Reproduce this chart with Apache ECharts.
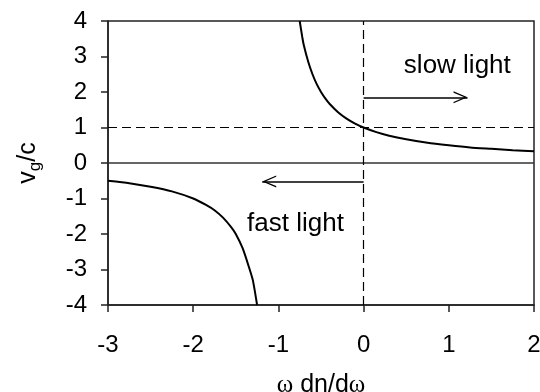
<!DOCTYPE html>
<html>
<head>
<meta charset="utf-8">
<script src="https://cdn.jsdelivr.net/npm/echarts@6/dist/echarts.min.js"></script>
<style>
  html, body { margin: 0; padding: 0; background: #fff; }
  #chart { width: 540px; height: 392px; }
</style>
</head>
<body>
<div id="chart"></div>
<script>
// points: [ω dn/dω, vg/c]
const slowBranch = [
  [-0.75, 4.0], [-0.72, 3.55], [-0.7, 3.3], [-0.65, 2.85], [-0.6, 2.5],
  [-0.55, 2.22], [-0.5, 2.0], [-0.45, 1.82], [-0.4, 1.67], [-0.3, 1.43],
  [-0.2, 1.25], [-0.1, 1.11], [0, 1.0], [0.15, 0.87], [0.3, 0.77],
  [0.5, 0.67], [0.75, 0.57], [1.0, 0.5], [1.25, 0.44], [1.5, 0.4],
  [1.75, 0.36], [2.0, 0.33]
];
const fastBranch = [
  [-3.0, -0.5], [-2.75, -0.57], [-2.5, -0.67], [-2.25, -0.8], [-2.0, -1.0],
  [-1.85, -1.18], [-1.75, -1.33], [-1.65, -1.54], [-1.55, -1.82], [-1.5, -2.0],
  [-1.42, -2.4], [-1.35, -2.9], [-1.3, -3.3], [-1.25, -4.0]
];
const xTicks = { min: -3, max: 2, step: 1 };
const yTicks = { min: -4, max: 4, step: 1 };
// reference lines and arrows
const unityLine = 1;
const zeroLine = 0;
const slowArrow = { y: 1.85, from: 0, to: 1.22 };
const fastArrow = { y: -0.52, from: 0, to: -1.19 };
const notes = [
  { name: 'slow light', coord: [1.1, 2.74] },
  { name: 'fast light', coord: [-0.8, -1.71] }
];

const font = 'Liberation Sans, Arial, sans-serif';
const chevron = 'path://M0,14 L6,0 L12,14 L10.6,14 L6,3.2 L1.4,14 Z';

const chart = echarts.init(document.getElementById('chart'));

const option = {
  animation: false,
  grid: {
    left: 108, right: 6, top: 21, bottom: 87,
    outerBoundsMode: 'none',
    show: true, borderColor: '#222', borderWidth: 1.5
  },
  xAxis: {
    type: 'value',
    min: xTicks.min, max: xTicks.max, interval: xTicks.step,
    name: '{w|ω} dn/d{w|ω}',
    nameLocation: 'middle',
    nameGap: 68,
    nameTextStyle: {
      fontFamily: font, fontSize: 25, color: '#000',
      rich: { w: { fontFamily: 'Liberation Serif, serif', fontSize: 25, color: '#000' } }
    },
    axisLine: { onZero: false, lineStyle: { color: '#222', width: 1.5 } },
    axisTick: { show: true, length: 7, inside: false, lineStyle: { color: '#222', width: 1.5 } },
    axisLabel: { fontFamily: font, fontSize: 24, color: '#000', margin: 28 },
    splitLine: { show: false }
  },
  yAxis: {
    type: 'value',
    min: yTicks.min, max: yTicks.max, interval: yTicks.step,
    name: '{v|v}{g|g}{v|/c}',
    nameLocation: 'middle',
    nameGap: 64,
    nameTextStyle: {
      fontFamily: font, color: '#000',
      rich: {
        v: { fontFamily: font, fontSize: 25, lineHeight: 32, color: '#000' },
        g: { fontFamily: font, fontSize: 17, lineHeight: 17, verticalAlign: 'bottom', color: '#000' }
      }
    },
    axisLine: { onZero: false, lineStyle: { color: '#222', width: 1.5 } },
    axisTick: { show: true, length: 7, inside: false, lineStyle: { color: '#222', width: 1.5 } },
    axisLabel: { fontFamily: font, fontSize: 24, color: '#000', margin: 21 },
    splitLine: { show: false }
  },
  series: [
    {
      name: 'slow',
      type: 'line',
      data: slowBranch,
      showSymbol: false,
      smooth: 0.2,
      lineStyle: { color: '#000', width: 2 },
      z: 5
    },
    {
      name: 'fast',
      type: 'line',
      data: fastBranch,
      showSymbol: false,
      smooth: 0.2,
      lineStyle: { color: '#000', width: 2 },
      z: 5
    },
    {
      name: 'guides',
      type: 'line',
      data: [],
      markLine: {
        silent: true,
        symbol: ['none', 'none'],
        label: { show: false },
        lineStyle: { color: '#000', width: 1.2, type: [9, 5] },
        data: [
          { yAxis: zeroLine, lineStyle: { type: 'solid', color: '#333', width: 1.5 } },
          { yAxis: unityLine },
          { xAxis: 0 },
          [
            { coord: [slowArrow.from, slowArrow.y], symbol: 'none' },
            {
              coord: [slowArrow.to, slowArrow.y], symbol: chevron,
              symbolSize: [12, 14], symbolOffset: [0, 7],
              lineStyle: { type: 'solid', width: 1.5 }
            }
          ],
          [
            { coord: [fastArrow.from, fastArrow.y], symbol: 'none' },
            {
              coord: [fastArrow.to, fastArrow.y], symbol: chevron,
              symbolSize: [12, 14], symbolOffset: [0, 7],
              lineStyle: { type: 'solid', width: 1.5 }
            }
          ]
        ]
      },
      markPoint: {
        silent: true,
        symbolSize: 0,
        label: {
          show: true, position: 'inside', formatter: '{b}',
          fontFamily: font, fontSize: 26, color: '#000'
        },
        data: notes
      }
    }
  ]
};

chart.setOption(option);
</script>
</body>
</html>
